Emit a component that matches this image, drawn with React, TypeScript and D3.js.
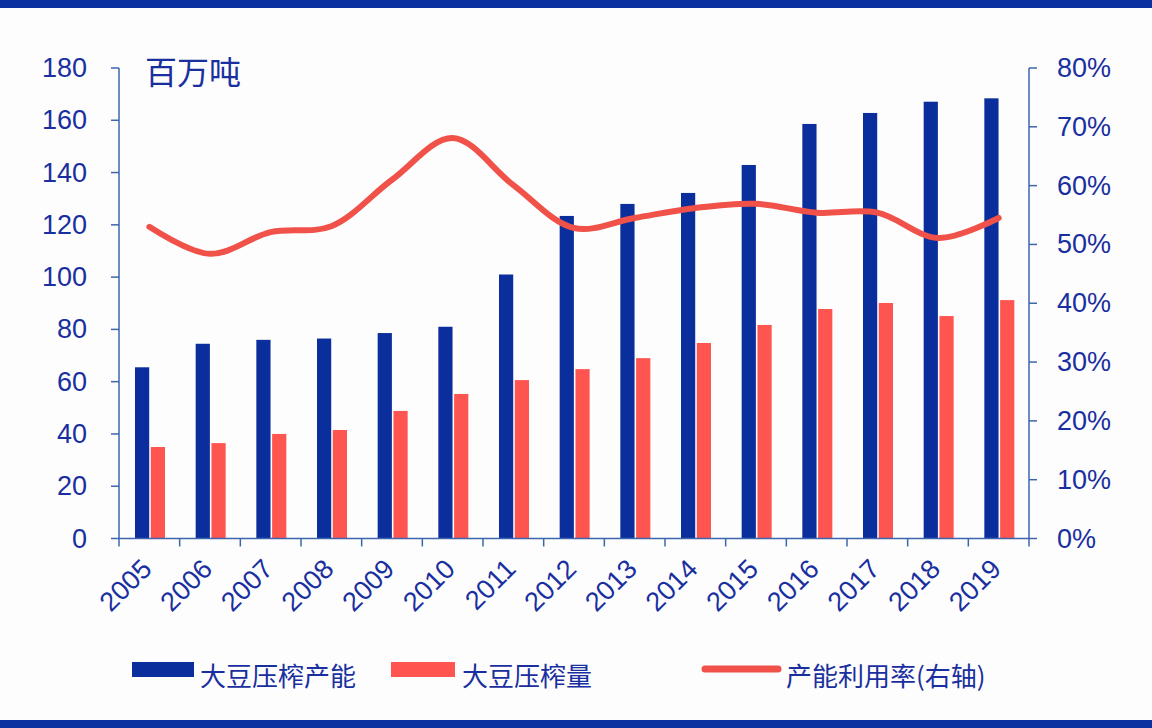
import * as d3 from "d3";

const years = ["2005", "2006", "2007", "2008", "2009", "2010", "2011", "2012", "2013", "2014", "2015", "2016", "2017", "2018", "2019"];
// 大豆压榨产能 (百万吨)
const capacity = [65.5, 74.5, 76, 76.5, 78.6, 81, 101, 123.4, 128, 132.2, 142.9, 158.6, 162.8, 167.1, 168.4];
// 大豆压榨量 (百万吨)
const crush = [35, 36.5, 40, 41.5, 48.8, 55.3, 60.6, 64.8, 69, 74.8, 81.7, 87.8, 90.1, 85.1, 91.2];
// 产能利用率 (右轴)
const utilization = [0.53, 0.484, 0.521, 0.531, 0.61, 0.681, 0.601, 0.528, 0.545, 0.562, 0.569, 0.554, 0.554, 0.511, 0.545];

const leftTicks = [0, 20, 40, 60, 80, 100, 120, 140, 160, 180];
const rightTicks = [0, 0.1, 0.2, 0.3, 0.4, 0.5, 0.6, 0.7, 0.8];

const width = 1152;
const height = 728;
const plotLeft = 119;
const plotRight = 1029;
const plotTop = 68;
const plotBottom = 538.5;

const navy = "#0a2e9c";
const red = "#ff5550";
const lineRed = "#f0524a";
const textBlue = "#1a2f9f";
const axisBlue = "#3d66ad";
const font = "'Liberation Sans', Arial, sans-serif";
const cjk = "'Noto Sans CJK SC', sans-serif";

export default function App() {
  const x = d3.scaleBand().domain(years).range([plotLeft, plotRight]).padding(0);
  const sub = d3.scaleBand().domain(["cap", "crush"]).range([16, 46]).paddingInner(0.1);
  const y = d3.scaleLinear().domain([0, 180]).range([plotBottom, plotTop]);
  const y2 = d3.scaleLinear().domain([0, 0.8]).range([plotBottom, plotTop]);
  const pct = d3.format(".0%");

  const line = d3
    .line<number>()
    .x((_, i) => (x(years[i]) as number) + x.bandwidth() / 2)
    .y((d) => y2(d))
    .curve(d3.curveCatmullRom.alpha(0.5));

  const boundaries = years.map((yr) => x(yr) as number).concat([plotRight]);

  return (
    <svg
      width={width}
      height={height}
      style={{ position: "absolute", left: 0, top: 0, display: "block", background: "#fdfdfd" }}
    >
      <rect x={0} y={0} width={width} height={8} fill="#0b31a0" />
      <rect x={0} y={720} width={width} height={8} fill="#0b31a0" />

      {/* bars */}
      {years.map((yr, i) => (
        <g key={yr}>
          <rect
            x={(x(yr) as number) + (sub("cap") as number)}
            y={y(capacity[i])}
            width={sub.bandwidth()}
            height={plotBottom - y(capacity[i])}
            fill={navy}
          />
          <rect
            x={(x(yr) as number) + (sub("crush") as number)}
            y={y(crush[i])}
            width={sub.bandwidth()}
            height={plotBottom - y(crush[i])}
            fill={red}
          />
        </g>
      ))}

      {/* utilization line */}
      <path d={line(utilization) ?? ""} fill="none" stroke={lineRed} strokeWidth={6} strokeLinecap="round" />

      {/* left axis */}
      <g stroke={axisBlue} strokeWidth={1.5} fill="none">
        <line x1={plotLeft} x2={plotLeft} y1={plotTop} y2={plotBottom} />
        {leftTicks.map((t) => (
          <line key={t} x1={plotLeft - 8} x2={plotLeft} y1={y(t)} y2={y(t)} />
        ))}
        <line x1={plotRight} x2={plotRight} y1={plotTop} y2={plotBottom} />
        {rightTicks.map((t) => (
          <line key={t} x1={plotRight} x2={plotRight + 8} y1={y2(t)} y2={y2(t)} />
        ))}
        <line x1={plotLeft} x2={plotRight} y1={plotBottom} y2={plotBottom} />
        {boundaries.map((b, i) => (
          <line key={i} x1={b} x2={b} y1={plotBottom} y2={plotBottom + 8} />
        ))}
      </g>

      <g fill={textBlue} fontFamily={font} fontSize={27}>
        {leftTicks.map((t) => (
          <text key={t} x={plotLeft - 32} y={y(t)} textAnchor="end" dominantBaseline="central">
            {t}
          </text>
        ))}
        {rightTicks.map((t) => (
          <text key={t} x={plotRight + 28} y={y2(t)} textAnchor="start" dominantBaseline="central">
            {pct(t)}
          </text>
        ))}
        {years.map((yr) => {
          const cx = (x(yr) as number) + x.bandwidth() / 2 + 4;
          const cy = plotBottom + 32;
          return (
            <text key={yr} transform={`translate(${cx},${cy}) rotate(-45)`} textAnchor="end">
              {yr}
            </text>
          );
        })}
      </g>

      <text x={145} y={84} fill={textBlue} fontFamily={cjk} fontSize={32}>
        百万吨
      </text>

      {/* legend */}
      <g fontFamily={cjk} fontSize={26} fill={textBlue}>
        <rect x={132} y={662} width={62} height={15} fill={navy} />
        <text x={200} y={674} dominantBaseline="central">大豆压榨产能</text>
        <rect x={391} y={662} width={64} height={15} fill={red} />
        <text x={462} y={674} dominantBaseline="central">大豆压榨量</text>
        <line x1={705} x2={778} y1={669} y2={669} stroke={lineRed} strokeWidth={7} strokeLinecap="round" />
        <text x={786} y={674} dominantBaseline="central">产能利用率(右轴)</text>
      </g>
    </svg>
  );
}
